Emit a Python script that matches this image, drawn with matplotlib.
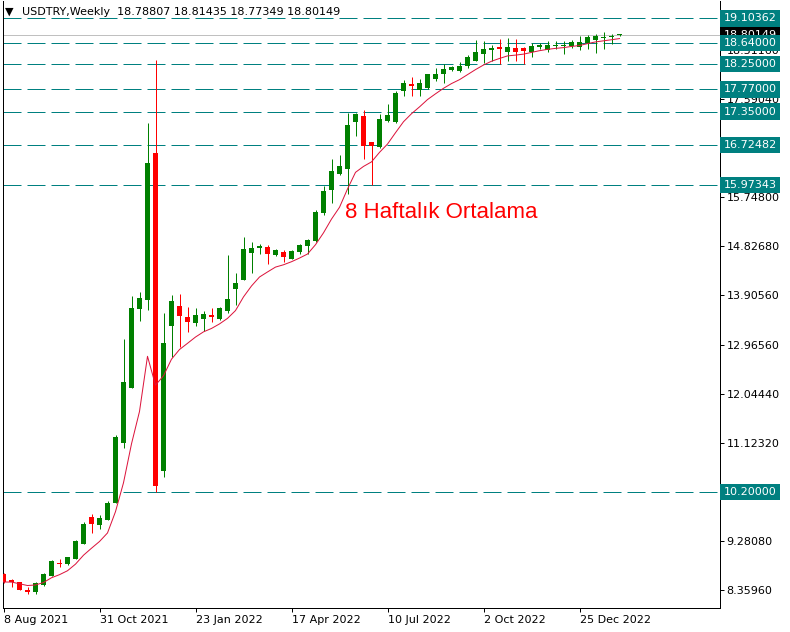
import matplotlib
matplotlib.use('Agg')
import matplotlib.pyplot as plt
import numpy as np
import pandas as pd

# haftalik USDTRY mumlari (8 Aug 2021 -> 29 Jan 2023)
dates = pd.date_range('2021-08-08', periods=78, freq='7D')
opens = [8.655, 8.548, 8.505, 8.347, 8.328, 8.454, 8.623, 8.862, 8.848, 8.948,
         9.230, 9.726, 9.587, 9.681, 10.000, 11.128, 12.162, 13.647, 13.810, 16.574,
         10.597, 13.322, 13.698, 13.491, 13.373, 13.460, 13.520, 13.454, 13.610, 14.023,
         14.192, 14.700, 14.794, 14.807, 14.650, 14.713, 14.587, 14.720, 14.832, 14.926,
         15.452, 15.884, 16.179, 16.268, 17.150, 17.270, 16.781, 16.681, 17.176, 17.163,
         17.745, 17.871, 17.758, 17.802, 17.971, 18.065, 18.134, 18.121, 18.215, 18.309,
         18.430, 18.516, 18.566, 18.478, 18.548, 18.548, 18.473, 18.573, 18.510, 18.580,
         18.586, 18.586, 18.567, 18.642, 18.705, 18.730, 18.750, 18.78807]
highs = [8.670, 8.567, 8.510, 8.410, 8.510, 8.680, 8.924, 8.937, 8.986, 9.300,
         9.638, 9.783, 9.770, 10.030, 11.273, 13.083, 13.886, 13.961, 17.143, 18.322,
         13.566, 13.905, 13.930, 13.680, 13.660, 13.604, 13.660, 13.685, 14.657, 14.318,
         14.995, 14.900, 14.863, 14.840, 14.770, 14.750, 14.750, 14.860, 14.963, 15.500,
         15.960, 16.461, 16.537, 17.332, 17.332, 17.382, 16.781, 17.307, 17.495, 17.739,
         17.946, 18.008, 17.960, 18.060, 18.178, 18.247, 18.210, 18.290, 18.410, 18.698,
         18.680, 18.604, 18.717, 18.736, 18.717, 18.566, 18.642, 18.640, 18.680, 18.674,
         18.674, 18.690, 18.767, 18.798, 18.810, 18.849, 18.810, 18.81435]
lows = [8.500, 8.422, 8.360, 8.290, 8.290, 8.440, 8.615, 8.798, 8.830, 8.940,
        9.220, 9.437, 9.506, 9.680, 9.990, 11.035, 12.150, 13.422, 13.623, 10.207,
        10.490, 12.745, 12.933, 13.215, 13.328, 13.228, 13.400, 13.430, 13.560, 13.717,
        14.185, 14.325, 14.680, 14.493, 14.640, 14.530, 14.580, 14.670, 14.670, 14.900,
        15.415, 15.628, 16.160, 15.800, 16.900, 16.461, 15.970, 16.662, 17.150, 17.140,
        17.651, 17.651, 17.651, 17.780, 17.930, 17.884, 18.120, 18.100, 18.165, 18.309,
        18.270, 18.309, 18.241, 18.309, 18.309, 18.253, 18.385, 18.535, 18.478, 18.529,
        18.430, 18.550, 18.516, 18.535, 18.460, 18.535, 18.630, 18.77349]
closes = [8.510, 8.505, 8.365, 8.328, 8.491, 8.661, 8.905, 8.850, 8.980, 9.281,
          9.600, 9.606, 9.713, 9.995, 11.236, 12.275, 13.666, 13.848, 16.380, 10.315,
          13.000, 13.792, 13.516, 13.403, 13.529, 13.553, 13.500, 13.660, 13.830, 14.125,
          14.770, 14.794, 14.832, 14.670, 14.750, 14.625, 14.732, 14.840, 14.940, 15.465,
          15.854, 16.236, 16.330, 17.100, 17.307, 16.711, 16.706, 17.213, 17.288, 17.702,
          17.884, 17.840, 17.890, 18.060, 18.065, 18.153, 18.190, 18.210, 18.378, 18.473,
          18.529, 18.548, 18.535, 18.566, 18.467, 18.497, 18.579, 18.610, 18.610, 18.605,
          18.605, 18.655, 18.655, 18.755, 18.774, 18.755, 18.774, 18.80149]

# yatay seviyeler
levels = [19.10362, 18.64, 18.25, 17.77, 17.35, 16.72482, 15.97343, 10.20]
last_price = 18.80149
ytick_vals = [8.3596, 9.2808, 10.2020, 11.1232, 12.0444, 12.9656, 13.9056,
              14.8268, 15.7480, 16.6692, 17.5904, 18.5116]
hidden_ticks = [10.2020, 16.6692]  # seviye kutularinin altinda kaliyor
date_tick_idx = [0, 12, 24, 36, 48, 60, 72]

GREEN = '#008000'
RED = '#FF0000'
TEAL = '#008080'
PX = 0.72  # 1 piksel (pt)

fig = plt.figure(figsize=(7.9, 6.32), dpi=100)
W, H = 790, 632
ax = fig.add_axes([2.5 / W, (H - 608) / H, 717 / W, 607 / H])

x = np.arange(len(closes))
o = np.array(opens); c = np.array(closes)
colors = [GREEN if cc >= oo else RED for oo, cc in zip(o, c)]
bottoms = np.minimum(o, c)
heights = np.maximum(np.abs(c - o), 0.025)

ax.vlines(x, lows, highs, colors=colors, linewidth=PX, zorder=3)
ax.bar(x, heights, bottom=bottoms, width=0.625, color=colors, linewidth=0, zorder=4)

# 8 haftalik ustel ortalama
ema = pd.Series(closes).ewm(span=8, adjust=False).mean()
ax.plot(x, ema, color='#DC143C', linewidth=PX, zorder=5)

for lv in levels:
    ax.axhline(lv, color=TEAL, linewidth=PX, linestyle=(0, (18, 6)), zorder=2)
ax.axhline(last_price, color='#C0C0C0', linewidth=PX, zorder=2)

ax.set_xlim(-0.125, 89.5)
ax.set_ylim(8.0214, 19.4313)

ax.yaxis.tick_right()
ax.set_yticks(ytick_vals)
ax.set_yticklabels(['' if v in hidden_ticks else '%.5f' % v for v in ytick_vals])
ax.set_xticks(date_tick_idx)
ax.set_xticklabels([f"{dates[i].day} {dates[i].strftime('%b %Y')}" for i in date_tick_idx],
                   ha='left')
ax.tick_params(axis='both', labelsize=8, length=3, width=PX, colors='black', pad=2)
for s in ['left', 'bottom', 'right']:
    ax.spines[s].set_linewidth(PX)
ax.spines['top'].set_visible(False)

tr = ax.get_yaxis_transform()
ax.text(1.006, last_price, '%.5f' % last_price, transform=tr, fontsize=8, color='white',
        ha='left', va='center', clip_on=False, zorder=10,
        bbox=dict(facecolor='black', edgecolor='none', boxstyle='square,pad=0.3'))
for lv in levels:
    ax.text(1.006, lv, '%.5f' % lv, transform=tr, fontsize=8, color='white',
            ha='left', va='center', clip_on=False, zorder=11,
            bbox=dict(facecolor=TEAL, edgecolor='none', boxstyle='square,pad=0.3'))

ax.text(42.69, 15.36, '8 Haftalık Ortalama', fontsize=16, color=RED,
        family='Liberation Sans', ha='left', va='baseline', zorder=12)

fig.text(5 / W, 1 - 12 / H, '▼', fontsize=8, va='center', ha='left')
fig.text(22 / W, 1 - 12 / H, 'USDTRY,Weekly  18.78807 18.81435 18.77349 18.80149',
         fontsize=8, va='center', ha='left')

fig.savefig('out.png', dpi=100, facecolor='white')
